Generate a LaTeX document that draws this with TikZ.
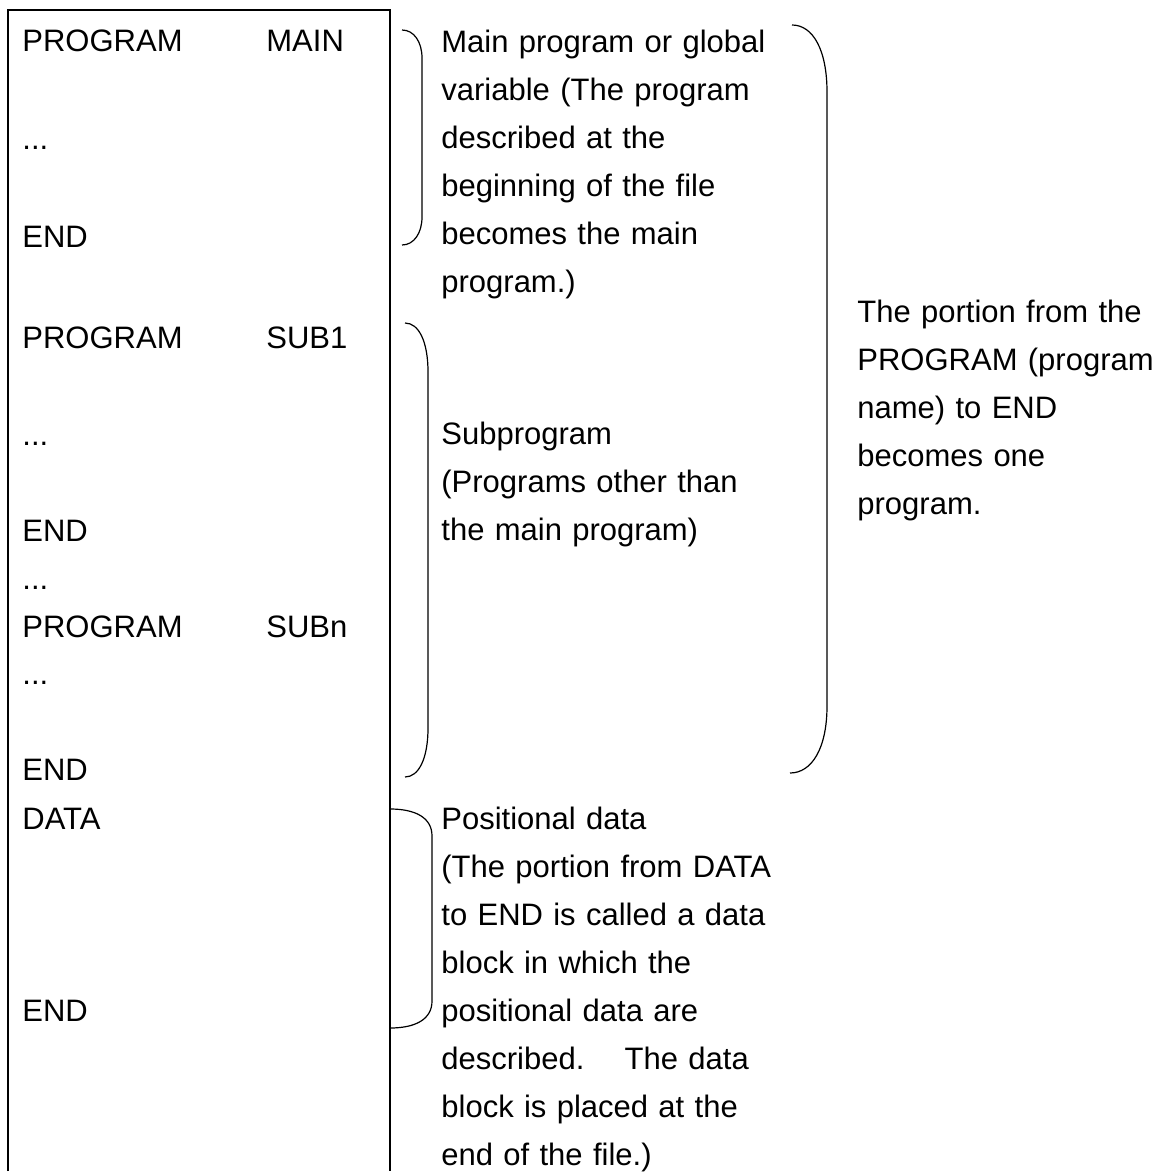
\documentclass[tikz,border=0pt]{standalone}
\usepackage{fontspec}
\setmainfont{Liberation Sans}
\newcommand{\skipped}{...}

\begin{document}
\begin{tikzpicture}[x=0.5pt,y=-0.5pt,
    font=\fontsize{15.5pt}{24pt}\selectfont,
    codeline/.style={anchor=base west,inner sep=0pt},
    note/.style={anchor=base west,inner sep=0pt,align=left,text width=#1},
    bracket/.style={line width=0.6pt}]
    \useasboundingbox (0,0) rectangle (1176,1171);

    % source file frame (open at the bottom)
    \draw[line width=1pt] (8,1171) -- (8,10) -- (390,10) -- (390,1171);

    % keywords of the source file
    \foreach \y/\txt in {52/PROGRAM,150/\skipped,248/END,348/PROGRAM,445/\skipped,541/END,
        589/\skipped,637/PROGRAM,684/\skipped,780/END,829/DATA,1021/END}
        \node[codeline] (kw\y) at (22,\y) {\txt};
    % program names
    \foreach \y/\txt in {52/MAIN,348/SUB1,637/SUBn}
        \node[codeline] (name\y) at (266,\y) {\txt};

    % bracket for the main program
    \draw[bracket] (402,30) .. controls (414,30) and (422,42) .. (422,58) -- (422,217)
        .. controls (422,233) and (414,245) .. (402,245);
    \node[note=175pt] (mainnote) at (441,53) {Main program or global\\variable (The program\\described at the\\beginning of the file\\becomes the main\\program.)};

    % bracket for the subprograms
    \draw[bracket] (405,323) .. controls (419,323) and (428,342) .. (428,372) -- (428,728)
        .. controls (428,758) and (419,777) .. (405,777);
    \node[note=175pt] (subnote) at (441,444) {Subprogram\\(Programs other than\\the main program)};

    % bracket for the data block
    \draw[bracket] (390,809) .. controls (416,809) and (432,818) .. (432,836) -- (432,1001)
        .. controls (432,1019) and (416,1028) .. (390,1028);
    \node[note=175pt] (datanote) at (441,829) {Positional data\\(The portion from DATA\\to END is called a data\\block in which the\\positional data are\\described.\hspace{0.8em} The data\\block is placed at the\\end of the file.)};

    % big bracket over all programs
    \draw[bracket] (792,25) .. controls (813,25) and (827,50) .. (827,92) -- (827,706)
        .. controls (827,748) and (812,773) .. (790,773);
    \node[note=155pt] (prognote) at (857,322) {The portion from the\\PROGRAM (program\\name) to END\\becomes one\\program.};
\end{tikzpicture}
\end{document}
